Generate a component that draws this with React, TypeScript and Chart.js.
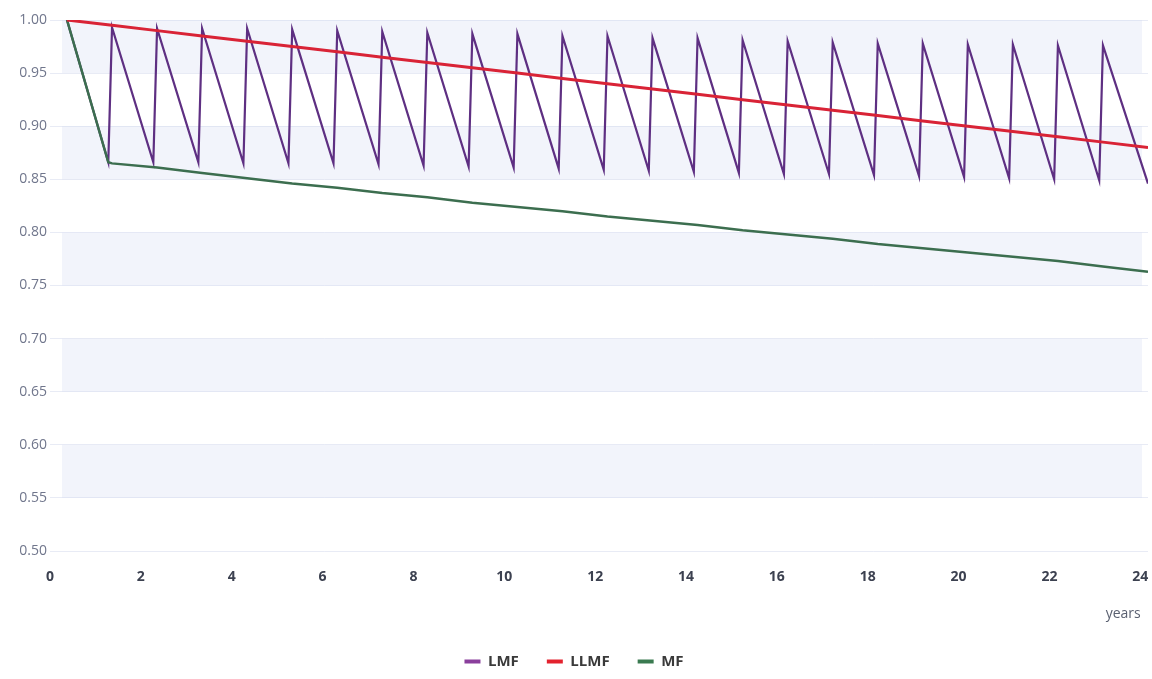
import React, { useEffect, useRef } from 'react';
import { Chart, registerables } from 'chart.js';

Chart.register(...registerables);

// ---- data (years on x, factor on y) ----
const lmfYears = [
  0, 0.917, 1, 1.917, 2, 2.917, 3, 3.917, 4, 4.917, 5, 5.917, 6, 6.917, 7, 7.917, 8,
  8.917, 9, 9.917, 10, 10.917, 11, 11.917, 12, 12.917, 13, 13.917, 14, 14.917, 15,
  15.917, 16, 16.917, 17, 17.917, 18, 18.917, 19, 19.917, 20, 20.917, 21, 21.917, 22,
  22.917, 23, 24,
];
const lmfValues = [
  1.0, 0.866, 0.993, 0.866, 0.992, 0.866, 0.992, 0.865, 0.992, 0.865, 0.991, 0.865,
  0.99, 0.864, 0.989, 0.863, 0.988, 0.862, 0.987, 0.861, 0.987, 0.86, 0.985, 0.859,
  0.985, 0.858, 0.983, 0.857, 0.983, 0.856, 0.981, 0.855, 0.98, 0.855, 0.979, 0.854,
  0.978, 0.853, 0.978, 0.852, 0.977, 0.851, 0.977, 0.85, 0.976, 0.849, 0.976, 0.846,
];

const llmfYears = [0, 1, 2, 3, 4, 5, 6, 7, 8, 9, 10, 11, 12, 13, 14, 15, 16, 17, 18, 19, 20, 21, 22, 23, 24];
const llmfValues = [
  1.0, 0.995, 0.99, 0.985, 0.98, 0.975, 0.97, 0.965, 0.96, 0.955, 0.95, 0.945, 0.94,
  0.935, 0.93, 0.925, 0.92, 0.915, 0.91, 0.905, 0.9, 0.895, 0.89, 0.885, 0.88,
];

const mfYears = [0, 0.917, 1, 2, 3, 4, 5, 6, 7, 8, 9, 10, 11, 12, 13, 14, 15, 16, 17, 18, 19, 20, 21, 22, 23, 24];
const mfValues = [
  1.0, 0.866, 0.865, 0.861, 0.856, 0.851, 0.846, 0.842, 0.837, 0.833, 0.828, 0.824,
  0.82, 0.815, 0.811, 0.807, 0.802, 0.798, 0.794, 0.789, 0.785, 0.781, 0.777, 0.773,
  0.768, 0.763,
];

const seriesNames = ['LMF', 'LLMF', 'MF'];
const yTickStep = 0.05;
const xTickStep = 2;
const xTitle = 'years\u00a0\u00a0';

// faint background bands (value ranges on the y axis)
const bandRanges: [number, number][] = [
  [0.95, 1.0],
  [0.85, 0.9],
  [0.75, 0.8],
  [0.65, 0.7],
  [0.55, 0.6],
];

const FONT = "'Open Sans', 'DejaVu Sans', sans-serif";

const toPoints = (xs: number[], ys: number[]) => xs.map((x, i) => ({ x, y: ys[i] }));

const bandPlugin = {
  id: 'bands',
  beforeDatasetsDraw(chart: any) {
    const { ctx, chartArea, scales } = chart;
    const y = scales.y;
    ctx.save();
    ctx.fillStyle = 'rgba(206,211,238,0.26)';
    for (const [lo, hi] of bandRanges) {
      const top = y.getPixelForValue(hi);
      const bottom = y.getPixelForValue(lo);
      ctx.fillRect(chartArea.left + 12, top, chartArea.right - chartArea.left - 18, bottom - top);
    }
    ctx.restore();
  },
};

export default function App() {
  const canvasRef = useRef<HTMLCanvasElement | null>(null);

  useEffect(() => {
    document.body.style.margin = '0';
    const canvas = canvasRef.current;
    if (!canvas) return;
    const chart = new Chart(canvas, {
      type: 'line',
      data: {
        datasets: [
          {
            label: seriesNames[0],
            data: toPoints(lmfYears, lmfValues),
            xAxisID: 'xd',
            borderColor: '#5e2f82',
            backgroundColor: '#8a3f9c',
            borderWidth: 2.2,
            pointRadius: 0,
            tension: 0,
            order: 2,
          },
          {
            label: seriesNames[1],
            data: toPoints(llmfYears, llmfValues),
            xAxisID: 'xd',
            borderColor: '#d92336',
            backgroundColor: '#e3222e',
            borderWidth: 3,
            pointRadius: 0,
            tension: 0,
            order: 0,
          },
          {
            label: seriesNames[2],
            data: toPoints(mfYears, mfValues),
            xAxisID: 'xd',
            borderColor: '#3c6e4f',
            backgroundColor: '#3a7a50',
            borderWidth: 2.5,
            pointRadius: 0,
            tension: 0,
            order: 1,
          },
        ],
      },
      options: {
        animation: false,
        responsive: true,
        maintainAspectRatio: false,
        layout: { padding: { left: 0, right: 4, top: 20, bottom: 0 } },
        plugins: {
          legend: {
            position: 'bottom',
            labels: {
              boxWidth: 16,
              boxHeight: 4,
              padding: 28,
              color: '#3a3a3a',
              font: { family: FONT, size: 15, weight: 'bold' },
              sort: (a: any, b: any) => a.datasetIndex - b.datasetIndex,
              generateLabels: (c: any) =>
                Chart.defaults.plugins.legend.labels
                  .generateLabels(c)
                  .map((l: any) => ({ ...l, lineWidth: 0 })),
            },
          },
          tooltip: { enabled: false },
        },
        scales: {
          x: {
            type: 'linear',
            position: 'bottom',
            min: 0,
            max: 24.17,
            grid: { display: false, drawTicks: false },
            border: { display: false },
            ticks: {
              stepSize: xTickStep,
              includeBounds: false,
              padding: 18,
              color: '#3c4150',
              font: { family: FONT, size: 14, weight: 'bold' },
            },
            title: {
              display: true,
              text: xTitle,
              align: 'end',
              color: '#5a6070',
              font: { family: FONT, size: 14 },
              padding: { top: 0, bottom: 4 },
            },
            afterFit: (s: any) => {
              s.height = 75;
              s.paddingRight = 0;
              s.paddingLeft = 0;
            },
          },
          xd: {
            type: 'linear',
            display: false,
            min: -0.377,
            max: 24,
          },
          y: {
            type: 'linear',
            min: 0.5,
            max: 1.0,
            grid: { color: 'rgba(214,218,236,0.55)', drawTicks: false },
            border: { display: false },
            ticks: {
              stepSize: yTickStep,
              padding: 3,
              color: '#70768c',
              font: { family: FONT, size: 14 },
              callback: (v: any) => Number(v).toFixed(2),
            },
            afterFit: (s: any) => {
              s.width = 50;
            },
          },
        },
      },
      plugins: [bandPlugin],
    } as any);
    return () => chart.destroy();
  }, []);

  return (
    <div style={{ position: 'absolute', left: 0, top: 0, width: 1152, height: 679, background: '#fff' }}>
      <canvas ref={canvasRef} />
    </div>
  );
}
